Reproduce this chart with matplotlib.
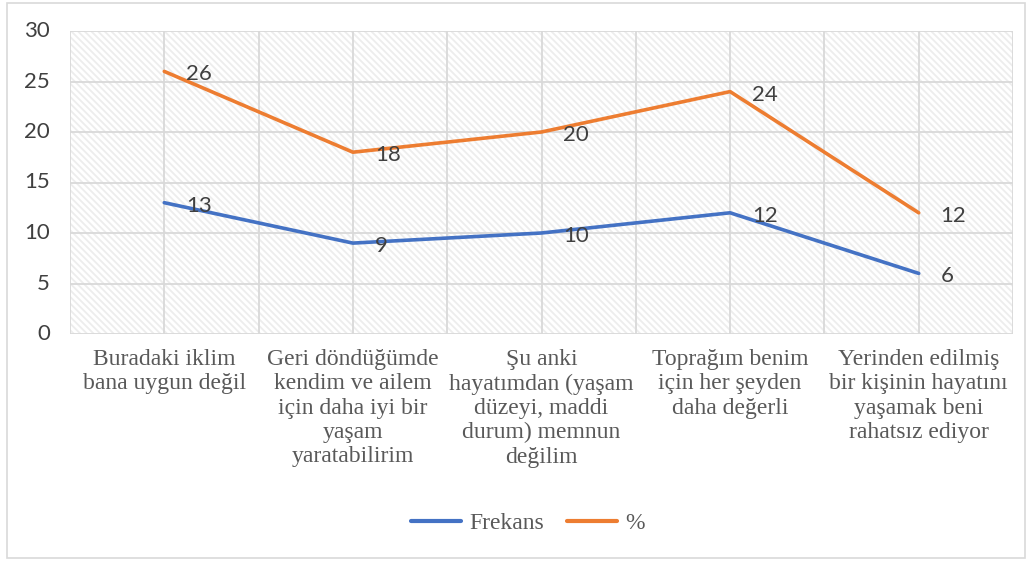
import matplotlib
matplotlib.use("Agg")
import matplotlib.pyplot as plt
from matplotlib import font_manager as fm
from matplotlib.patches import Rectangle
from matplotlib.transforms import blended_transform_factory, offset_copy

categories = [
    "Buradaki iklim\nbana uygun değil",
    "Geri döndüğümde\nkendim ve ailem\niçin daha iyi bir\nyaşam\nyaratabilirim",
    "Şu anki\nhayatımdan (yaşam\ndüzeyi, maddi\ndurum) memnun\ndeğilim",
    "Toprağım benim\niçin her şeyden\ndaha değerli",
    "Yerinden edilmiş\nbir kişinin hayatını\nyaşamak beni\nrahatsız ediyor",
]
frekans = [13, 9, 10, 12, 6]
yuzde = [26, 18, 20, 24, 12]
yticks = [0, 5, 10, 15, 20, 25, 30]

serif_path = fm.findfont(fm.FontProperties(family="Liberation Serif"))
sans_path = fm.findfont(fm.FontProperties(family="Lato"))
serif_cat = fm.FontProperties(fname=serif_path, size=17)
serif_leg = fm.FontProperties(fname=serif_path, size=17)
sans_lab = fm.FontProperties(fname=sans_path, size=16)

plt.rcParams["hatch.linewidth"] = 1.3

W, H = 1032, 565
fig = plt.figure(figsize=(W / 100, H / 100), dpi=100)
fig.patch.set_facecolor("white")

# outer border
fig.add_artist(Rectangle((7 / W, 1 - 558 / H), (1025 - 7) / W, (558 - 3) / H,
                         transform=fig.transFigure, fill=False,
                         edgecolor="#d9d9d9", lw=1.2))

ax = fig.add_axes([70 / W, 1 - 334 / H, (1013 - 70) / W, (334 - 31) / H])
ax.set_xlim(-0.5, len(categories) - 0.5)
ax.set_ylim(0, 30)

# hatched background
ax.add_patch(Rectangle((0, 0), 1, 1, transform=ax.transAxes, facecolor="white",
                       edgecolor="#ededed", hatch="\\\\\\\\\\", lw=0, zorder=0))

grid_c = "#d9d9d9"
for y in yticks:
    ax.axhline(y, color=grid_c, lw=1.3, zorder=1)
n = len(categories)
for i in range(2 * n + 1):
    ax.axvline(-0.5 + i * 0.5, color=grid_c, lw=1.3, zorder=1)

for s in ax.spines.values():
    s.set_visible(False)

x = list(range(n))
blue = "#4472C4"
orange = "#ED7D31"
ax.plot(x, frekans, color=blue, lw=2.6, label="Frekans", zorder=3, solid_capstyle="round")
ax.plot(x, yuzde, color=orange, lw=2.6, label="%", zorder=3, solid_capstyle="round")

for xi, v in zip(x, frekans):
    ax.annotate(str(v), (xi, v), xytext=(22, -3), textcoords="offset pixels",
                ha="left", va="center", zorder=4, color="#404040", fontproperties=sans_lab)
for xi, v in zip(x, yuzde):
    ax.annotate(str(v), (xi, v), xytext=(22, -3), textcoords="offset pixels",
                ha="left", va="center", zorder=4, color="#404040", fontproperties=sans_lab)

# y tick labels
ax.set_yticks(yticks)
ax.set_yticklabels([])
ax.tick_params(axis="y", length=0)
ytrans = offset_copy(blended_transform_factory(ax.transAxes, ax.transData),
                     fig=fig, x=-20, y=0, units="dots")
for t in yticks:
    ax.text(0, t, str(t), transform=ytrans, ha="right", va="center",
            color="#404040", fontproperties=sans_lab)

# category labels
ax.set_xticks([])
xtrans = offset_copy(blended_transform_factory(ax.transData, ax.transAxes),
                     fig=fig, x=0, y=-15, units="dots")
for xi, c in zip(x, categories):
    ax.text(xi, 0, c, transform=xtrans, ha="center", va="top", color="#595959",
            fontproperties=serif_cat, linespacing=1.21, multialignment="center")

leg = fig.legend(loc="center", bbox_to_anchor=(528 / W, 1 - 523 / H), ncol=2,
                 frameon=False, prop=serif_leg,
                 handlelength=2.1, columnspacing=1.0, handletextpad=0.35)
for t in leg.get_texts():
    t.set_color("#595959")
for h in leg.get_lines():
    h.set_linewidth(3)

fig.savefig("out.png", dpi=100, facecolor="white")
